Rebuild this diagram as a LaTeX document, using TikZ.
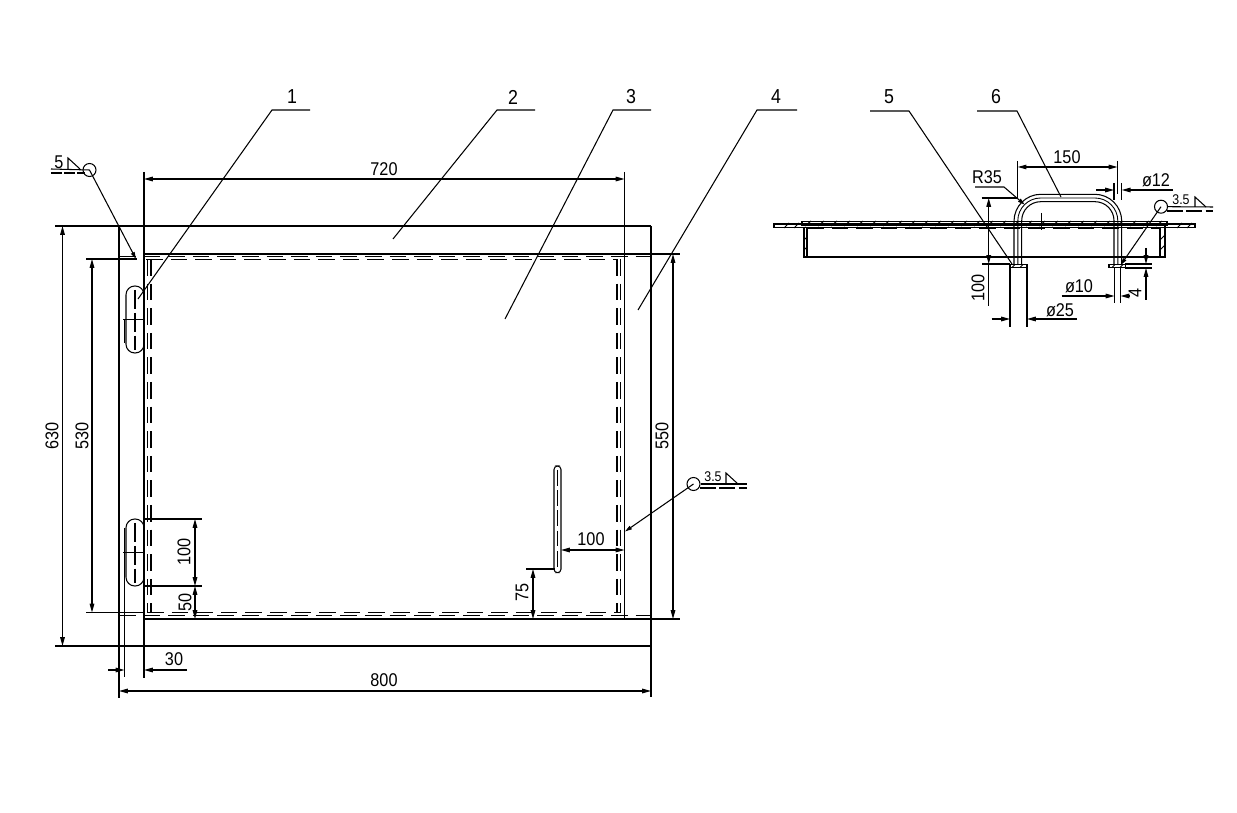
\documentclass[tikz,border=0pt]{standalone}
\usepackage{fontspec}
\setmainfont[FakeStretch=0.88]{Liberation Sans}
\usetikzlibrary{arrows.meta}
\tikzset{tip/.tip={Triangle[length=5pt,width=2.6pt,fill=black]}}

\begin{document}
\begin{tikzpicture}[x=0.02cm,y=-0.02cm,line width=0.6pt,
	lbl/.style={inner sep=0pt,font=\fontsize{11.5}{11.5}\selectfont},
	dimtxt/.style={inner sep=0pt,font=\fontsize{10.5}{10.5}\selectfont},
	smalltxt/.style={inner sep=0pt,font=\fontsize{8}{8}\selectfont},
	longdash/.style={dash pattern=on 9.5pt off 4.5pt},
	weld/.style={circle,draw,minimum size=0.26cm,inner sep=0pt},
	dim/.style={tip-tip},
	lead/.style={-{Triangle[length=4pt,width=2.2pt,fill=black]}},
	hatch/.style={line width=0.55pt}]
\useasboundingbox (0,0) rectangle (1237,813);

% plate and frame
\draw (55,226) -- (651,226);
\draw (55,646) -- (651,646);
\draw (119,226) -- (119,698);
\draw (651,226) -- (651,697);
\draw (144,172) -- (144,678);
\draw (624.5,172) -- (624.5,619);
\draw (144,254) -- (680,254);
\draw (144,619) -- (680,619);
\draw[longdash] (119,256.7) -- (651,256.7);
\draw[longdash] (146,259.5) -- (617,259.5);
\draw[longdash] (147,612.7) -- (620,612.7);
\draw[longdash] (119,615.7) -- (651,615.7);
\draw[longdash] (147.5,259) -- (147.5,613);
\draw[longdash] (151,259) -- (151,613);
\draw[longdash] (617,259) -- (617,613);
\draw[longdash] (620.5,259) -- (620.5,613);

% hinges
\draw[rounded corners=5pt] (126,286) rectangle (144,353);
\draw[rounded corners=5pt] (126,519) rectangle (144,586);
\draw[line width=1pt] (123,319.5) -- (145,319.5);
\draw[line width=1pt] (123,552.5) -- (145,552.5);
\draw[dash pattern=on 11pt off 2pt] (135,290) -- (135,350);
\draw[dash pattern=on 11pt off 2pt] (135,523) -- (135,583);
\draw (124.5,320) -- (124.5,343);
\draw (124.5,528) -- (124.5,677);

% handle bar
\draw[rounded corners=2pt] (554,466) rectangle (561,572.7);
\draw[dash pattern=on 9pt off 2.5pt,line width=0.5pt] (557.5,470) -- (557.5,570);

% main dimensions
\draw[dim] (144,179) -- (624.5,179);
\node (d720) at (384,169)[dimtxt] {720};
\draw[dim] (62.5,226) -- (62.5,646);
\node (d630) at (52,436)[dimtxt,rotate=90] {630};
\draw (86,259) -- (137,259);
\draw (86,612.5) -- (145,612.5);
\draw[dim] (92,259) -- (92,612.5);
\node (d530) at (82,436)[dimtxt,rotate=90] {530};
\draw[dim] (673,254) -- (673,619);
\node (d550) at (662,436)[dimtxt,rotate=90] {550};
\draw[dim] (119,691) -- (651,691);
\node (d800) at (384,680)[dimtxt] {800};
\draw[-tip] (108,670) -- (124.5,670);
\draw[-tip] (187,670) -- (144,670);
\node (d30) at (174,659)[dimtxt] {30};
\draw (144,519) -- (202,519);
\draw (144,586) -- (202,586);
\draw[dim] (195,519) -- (195,586);
\draw[dim] (195,586) -- (195,619);
\node (d100a) at (184,552)[dimtxt,rotate=90] {100};
\node (d50) at (185,602)[dimtxt,rotate=90] {50};
\draw[dim] (561,550) -- (624.5,550);
\node (d100b) at (591,539)[dimtxt] {100};
\draw (526,569) -- (555,569);
\draw (526,619) -- (560,619);
\draw[dim] (533,569) -- (533,619);
\node (d75) at (522,592)[dimtxt,rotate=90] {75};

% welds
\node (w1) at (89.5,170)[weld] {};
\coordinate (w1t) at (136,259);
\draw[lead] (w1.center) -- (w1t);
\draw (51,169) -- (w1.center);
\draw[dash pattern=on 6pt off 1.5pt] (51,173) -- (85,173);
\draw (68,169) -- (68,158) -- (80,169);
\node (w1l) at (59,162.5)[dimtxt] {5};

\node (w2) at (693.5,484)[weld] {};
\coordinate (w2t) at (625,531.5);
\draw[lead] (w2.center) -- (w2t);
\draw (w2.east) -- (747,484);
\draw[dash pattern=on 9pt off 2pt] (700,488) -- (747,488);
\draw (726,484) -- (726,473) -- (738,484);
\node (w2l) at (713,477)[smalltxt] {3.5};

\node (w3) at (1161,206.7)[weld] {};
\coordinate (w3t) at (1120.7,265);
\draw[lead] (w3.center) -- (w3t);
\draw (w3.east) -- (1213,207);
\draw[dash pattern=on 9pt off 2pt] (1167,211) -- (1213,211);
\draw (1195,207) -- (1195,197) -- (1206,207);
\node (w3l) at (1181,200)[smalltxt] {3.5};

% part numbers
\node (p1) at (292,97)[lbl] {1};
\node (p2) at (513,97)[lbl] {2};
\node (p3) at (631,97)[lbl] {3};
\node (p4) at (776,97)[lbl] {4};
\node (p5) at (889,97)[lbl] {5};
\node (p6) at (996,97)[lbl] {6};
\coordinate (t1) at (138,299);
\coordinate (t2) at (393,239);
\coordinate (t3) at (505,319);
\coordinate (t4) at (638,310);
\coordinate (t5) at (1012,264);
\coordinate (t6) at (1061,197);
\draw (310,110) -- (272,110) -- (t1);
\draw (535,110) -- (497,110) -- (t2);
\draw (651,110) -- (613,110) -- (t3);
\draw (797,110) -- (757,110) -- (t4);
\draw (870,111) -- (909,111) -- (t5);
\draw (977,111) -- (1017,111) -- (t6);

% side view
\draw (774,224) rectangle (1195,227.3);
\draw (802,221.7) rectangle (1167,225);
\draw (804,227) -- (804,257) -- (1165,257) -- (1165,225);
\draw (807,227) -- (807,257);
\draw (1160,227) -- (1160,257);
\draw[longdash] (807,228) -- (1160,228);
\foreach \x in {806,819,...,1160}
	\draw[hatch] (\x-1,226) -- (\x+5,221);
\foreach \x in {785,795,1178,1188}
	\draw[hatch] (\x-1,228) -- (\x+4,223);
\foreach \y in {240,250}{
	\draw[hatch] (804,\y) -- (807,\y-3);
	\draw[hatch] (1160,\y) -- (1165,\y-5);
}
\draw (1041.7,213) -- (1041.7,230);

% handle
\draw[rounded corners=15.3pt] (1014,264) -- (1014,194.3) -- (1121.7,194.3) -- (1121.7,264);
\draw[rounded corners=13pt,line width=0.5pt] (1017.8,264) -- (1017.8,198) -- (1117.8,198) -- (1117.8,264);
\draw[rounded corners=10.8pt] (1021.7,264) -- (1021.7,201.7) -- (1114,201.7) -- (1114,264);
\draw (1010,264.3) rectangle (1027,267.7);
\draw (1109,264.3) rectangle (1125.7,267.7);
\foreach \x in {1012,1020,1112,1120}
	\draw[hatch] (\x,267.7) -- (\x+3,264.3);

% side view dimensions
\draw (1017.7,161) -- (1017.7,198);
\draw (1117.5,161) -- (1117.5,194);
\draw[dim] (1017.7,167) -- (1117.5,167);
\node (d150) at (1067,157)[dimtxt] {150};
\draw (981.7,198) -- (1017,198);
\draw (982,264) -- (1010,264);
\draw (988.7,306) -- (988.7,264);
\draw[dim] (988.7,198) -- (988.7,264);
\node (d100c) at (978,288)[dimtxt,rotate=90] {100};
\draw (1114,183) -- (1114,200);
\draw (1121.7,183) -- (1121.7,200);
\draw[-tip] (1096,190) -- (1114,190);
\draw[-tip] (1173,190) -- (1121.7,190);
\node (d12) at (1156,180)[dimtxt] {ø12};
\draw (1114.5,268) -- (1114.5,303);
\draw (1120.5,268) -- (1120.5,303);
\draw[-tip] (1061.7,296) -- (1114.5,296);
\draw[-tip] (1130,296) -- (1120.5,296);
\node (d10) at (1079,286)[dimtxt] {ø10};
\draw (1125,264) -- (1152,264);
\draw (1125,268) -- (1152,268);
\draw[-tip] (1146,248) -- (1146,264);
\draw[-tip] (1146,300) -- (1146,268);
\node (d4) at (1135,293)[dimtxt,rotate=90] {4};
\draw (1010,267) -- (1010,327);
\draw (1027,267) -- (1027,327);
\draw[-tip] (991.7,319) -- (1010,319);
\draw[-tip] (1077,319) -- (1027,319);
\node (d25) at (1060,310)[dimtxt] {ø25};
\node (r35) at (987,177)[dimtxt] {R35};
\coordinate (r35t) at (1024.7,204.7);
\draw[lead] (975,187) -- (1004,187) -- (r35t);
\end{tikzpicture}
\end{document}
